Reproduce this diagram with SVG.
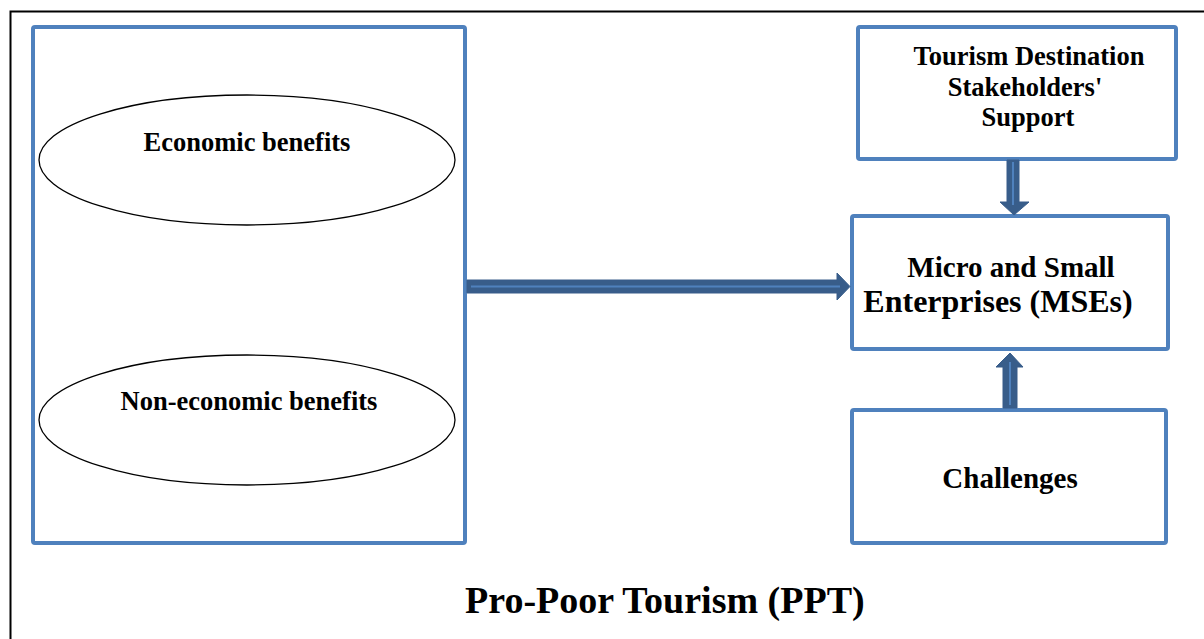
<svg xmlns="http://www.w3.org/2000/svg" width="1204" height="639" viewBox="0 0 1204 639">
<style>
.box{fill:#fff;stroke:#4F81BD;stroke-width:4;}
.ell{fill:#fff;stroke:#000;stroke-width:1.3;}
.t{font-family:"Liberation Serif","Times New Roman",serif;font-weight:bold;fill:#000;text-anchor:middle;}
.arr{fill:#385D8A;stroke:#385D8A;stroke-width:1;}
.core{stroke:#4F81BD;stroke-width:2;fill:none;}
</style>
<rect x="0" y="0" width="1204" height="639" fill="#fff"/>
<rect x="10.5" y="11.5" width="1210" height="660" fill="none" stroke="#000" stroke-width="2"/>
<g id="ppt-box">
<rect class="box" x="33" y="27" width="432" height="516" rx="2"/>
</g>
<g id="economic">
<ellipse class="ell" cx="247" cy="160" rx="208" ry="65"/>
<text class="t" x="247" y="151" font-size="26.5">Economic benefits</text>
</g>
<g id="non-economic">
<ellipse class="ell" cx="247" cy="420" rx="208" ry="65"/>
<text class="t" x="249" y="410" font-size="26.5">Non-economic benefits</text>
</g>
<g id="stakeholders">
<rect class="box" x="858" y="27" width="318" height="132" rx="2"/>
<text class="t" x="1029" y="65" font-size="26.5">Tourism Destination</text>
<text class="t" x="1025" y="96" font-size="26.5">Stakeholders'</text>
<text class="t" x="1028" y="126" font-size="26.5">Support</text>
</g>
<g id="mses">
<rect class="box" x="852" y="216" width="316" height="133" rx="2"/>
<text class="t" x="1011" y="277" font-size="29">Micro and Small</text>
<text class="t" x="998" y="312" font-size="32">Enterprises (MSEs)</text>
</g>
<g id="challenges">
<rect class="box" x="852" y="410" width="314" height="133" rx="2"/>
<text class="t" x="1010" y="488" font-size="29">Challenges</text>
</g>
<g id="title">
<text class="t" x="465" y="613" font-size="38" style="text-anchor:start">Pro-Poor Tourism (PPT)</text>
</g>
<g id="connectors">
<polygon class="arr" points="467,280 837,280 837,273 850,286.5 837,300 837,293 467,293"/>
<line class="core" x1="471" y1="286.5" x2="840" y2="286.5"/>
<polygon class="arr" points="1007,160 1019,160 1019,202 1029,202 1014,215 1000,202 1007,202"/>
<line class="core" x1="1013" y1="162" x2="1013" y2="205"/>
<polygon class="arr" points="1003,408 1017,408 1017,367 1023,367 1010,353 996,367 1003,367"/>
<line class="core" x1="1010" y1="405" x2="1010" y2="362"/>
</g>
</svg>
